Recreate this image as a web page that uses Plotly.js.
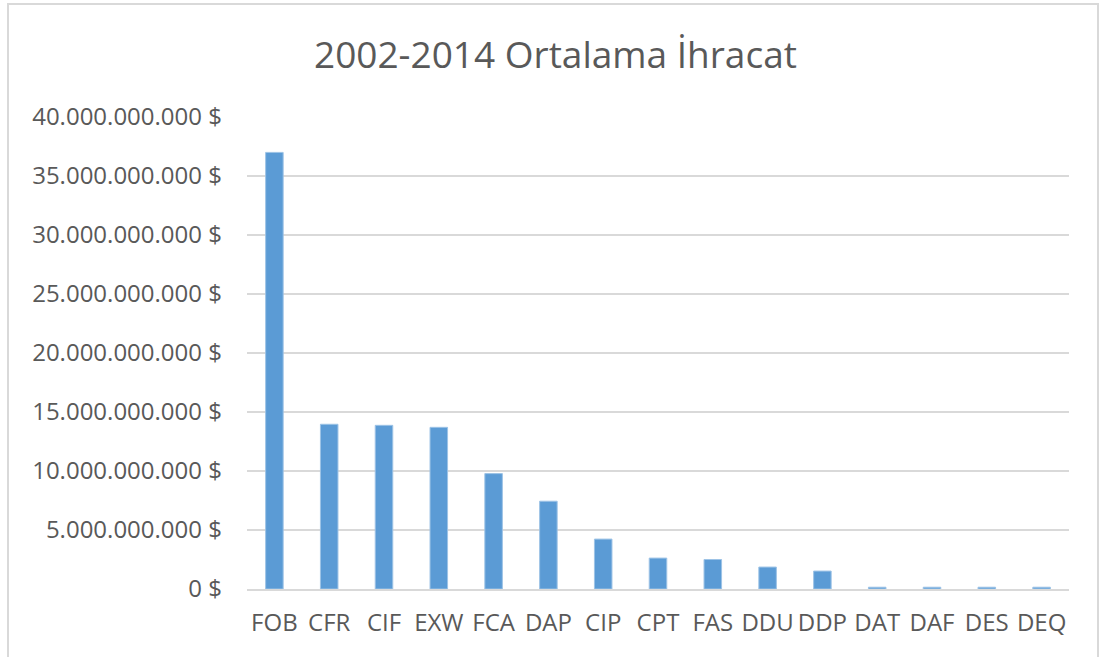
<!DOCTYPE html>
<html>
<head>
<meta charset="utf-8">
<script src="https://cdn.plot.ly/plotly-3.0.1.min.js"></script>
<style>
  html, body { margin: 0; padding: 0; background: #ffffff; }
  #wrap { position: relative; width: 1101px; height: 657px; overflow: hidden; }
  #chart { position: absolute; left: 0; top: 0; width: 1101px; height: 657px; }
  #frame { position: absolute; left: 7px; top: 3px; width: 1092px; height: 660px;
           border: 2px solid #d9d9d9; box-sizing: border-box; pointer-events: none; }
</style>
</head>
<body>
<div id="wrap">
  <div id="chart"></div>
  <div id="frame"></div>
</div>
<script>
const categories = ["FOB", "CFR", "CIF", "EXW", "FCA", "DAP", "CIP", "CPT", "FAS", "DDU", "DDP", "DAT", "DAF", "DES", "DEQ"];
const averageExports = [37.0e9, 13.96e9, 13.87e9, 13.70e9, 9.78e9, 7.44e9, 4.23e9, 2.62e9, 2.50e9, 1.86e9, 1.52e9, 0.15e9, 0.15e9, 0.15e9, 0.15e9];
const yTickVals = [0, 5e9, 10e9, 15e9, 20e9, 25e9, 30e9, 35e9, 40e9];
const yTickText = ["0 $", "5.000.000.000 $", "10.000.000.000 $", "15.000.000.000 $", "20.000.000.000 $", "25.000.000.000 $", "30.000.000.000 $", "35.000.000.000 $", "40.000.000.000 $"];
const chartTitle = "2002-2014 Ortalama İhracat";

const font = "'Open Sans', 'Liberation Sans', sans-serif";

const trace = {
  type: "bar",
  x: categories,
  y: averageExports,
  marker: { color: "#5b9bd5", line: { color: "#9dc3e6", width: 1 } },
  hoverinfo: "x+y"
};

const layout = {
  width: 1101,
  height: 657,
  margin: { l: 247, r: 32, t: 117, b: 68, pad: 0 },
  paper_bgcolor: "rgba(0,0,0,0)",
  plot_bgcolor: "#ffffff",
  bargap: 0.68,
  showlegend: false,
  font: { family: font, color: "#595959", size: 24 },
  title: {
    text: chartTitle,
    font: { family: font, size: 37, color: "#595959" },
    xref: "container", x: 0.5045, xanchor: "center",
    yref: "container", y: 0.916, yanchor: "middle"
  },
  xaxis: {
    type: "category",
    showgrid: false,
    showline: true,
    linecolor: "#d9d9d9",
    linewidth: 1.5,
    ticks: "",
    tickfont: { family: font, size: 24, color: "#595959" },
    ticklabelstandoff: 12,
    zeroline: false
  },
  yaxis: {
    range: [0, 40e9],
    tickvals: yTickVals,
    ticktext: yTickText,
    showgrid: true,
    gridcolor: "#d9d9d9",
    gridwidth: 1.5,
    showline: false,
    zeroline: false,
    ticks: "",
    tickfont: { family: font, size: 24, color: "#595959" },
    ticklabelstandoff: 24
  }
};

Plotly.newPlot("chart", [trace], layout, { displayModeBar: false, staticPlot: true });
</script>
</body>
</html>
